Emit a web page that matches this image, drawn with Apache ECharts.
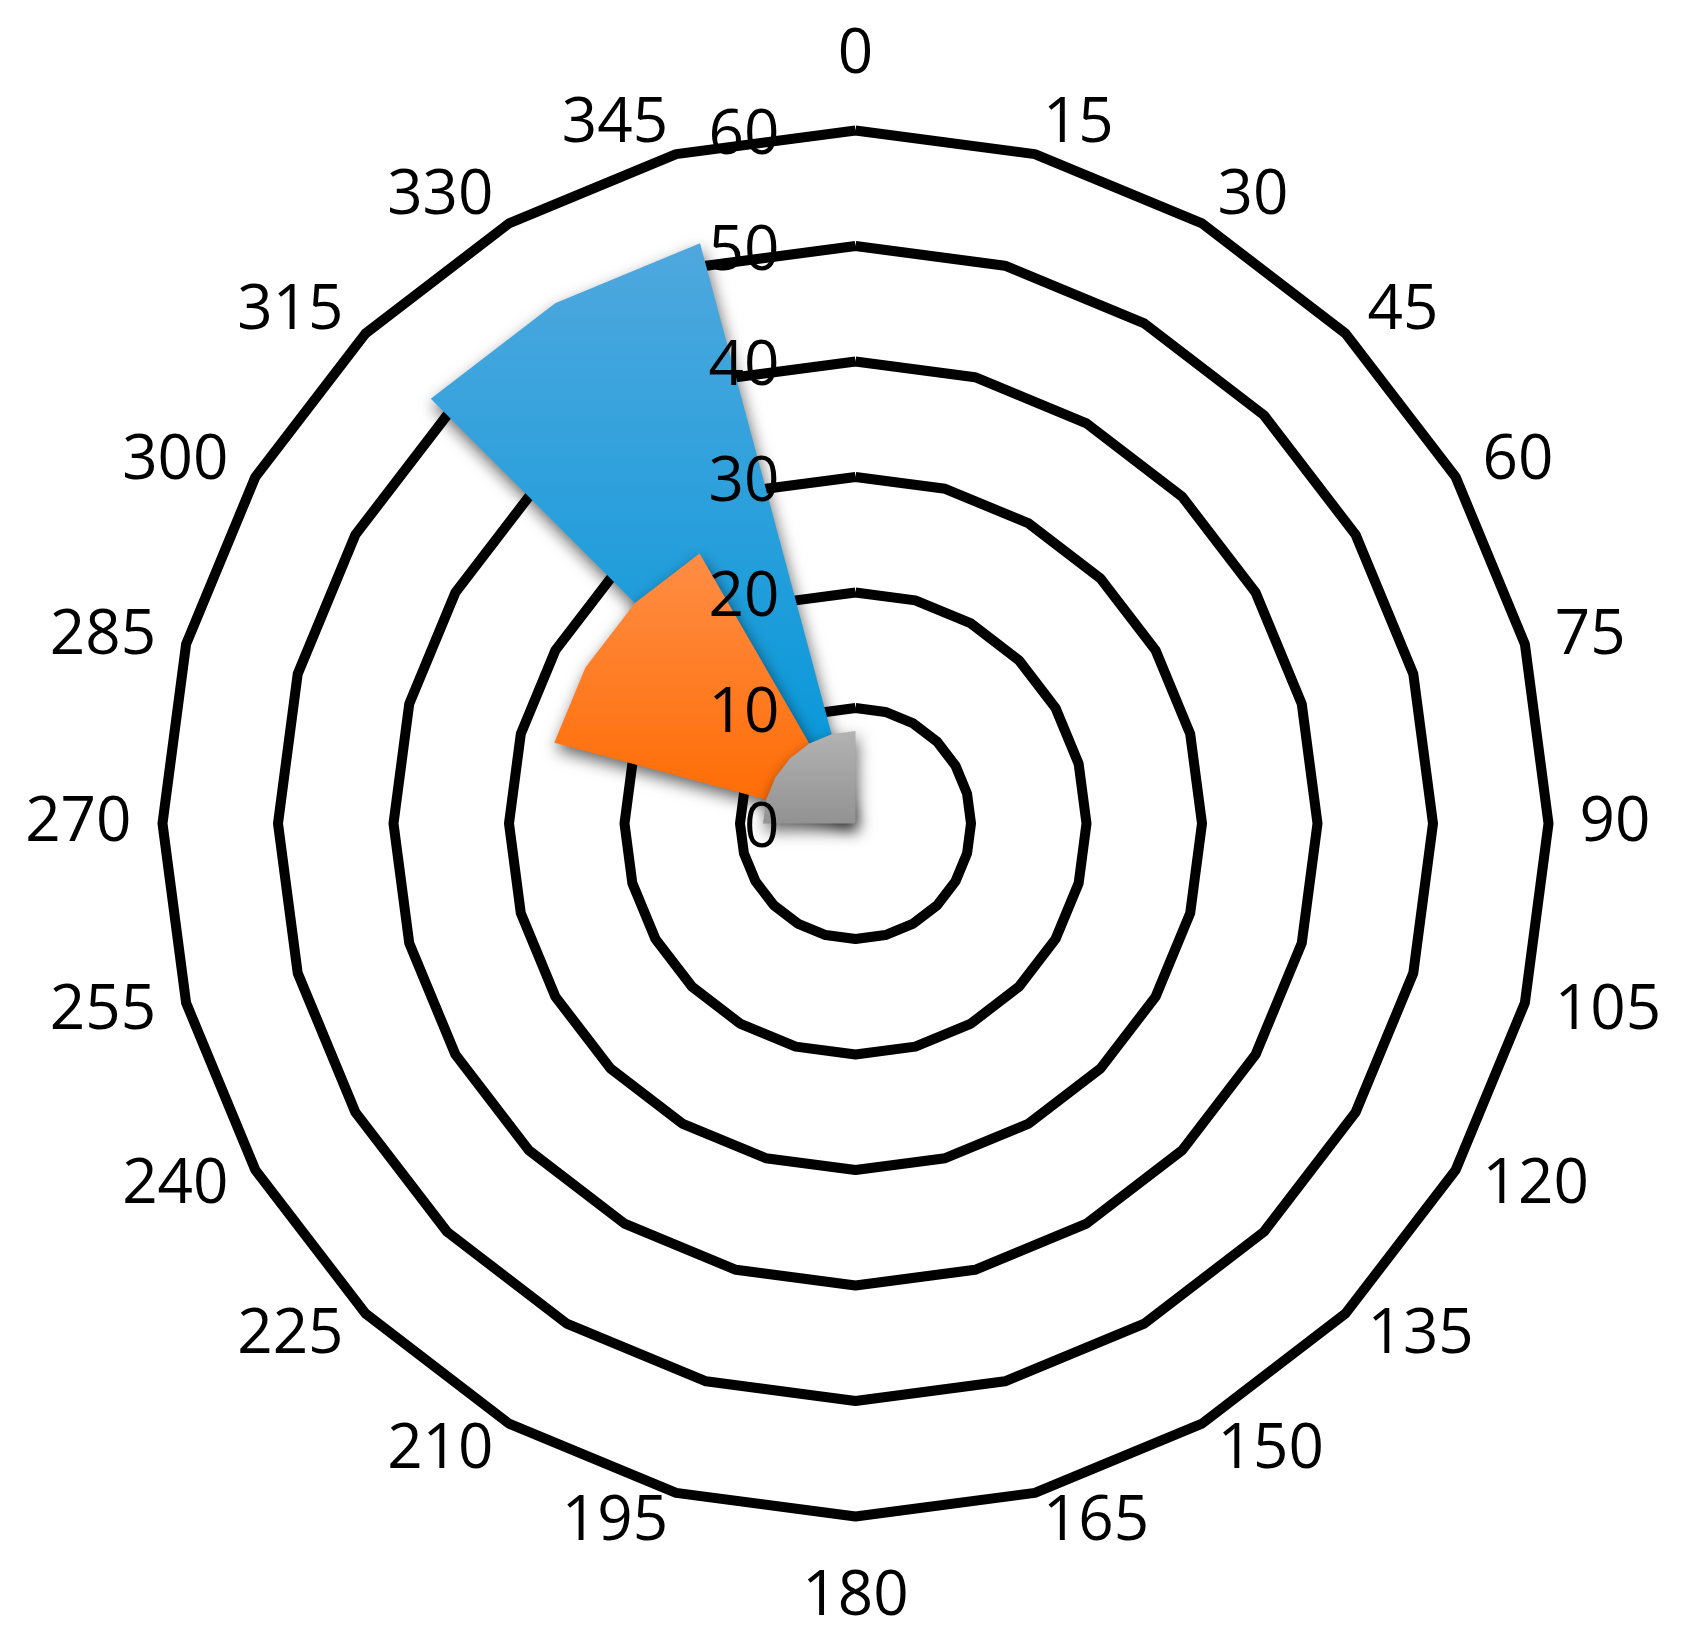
<!DOCTYPE html>
<html>
<head>
<meta charset="utf-8">
<script src="https://cdn.jsdelivr.net/npm/echarts@6/dist/echarts.min.js"></script>
<style>
html,body{margin:0;padding:0;background:#fff;}
#chart{width:1682px;height:1634px;}
</style>
</head>
<body>
<div id="chart"></div>
<script>
// Direction labels, clockwise from top
const angleLabels = [0,15,30,45,60,75,90,105,120,135,150,165,180,195,210,225,240,255,270,285,300,315,330,345];
// Values per direction (same order as angleLabels)
const seriesBlue   = [0,0,0,0,0,0,0,0,0,0,0,0,0,0,0,0,0,0,0,0,0,52,52,52];
const seriesOrange = [0,0,0,0,0,0,0,0,0,0,0,0,0,0,0,0,0,0,0,27,27,27,27,0];
const seriesGray   = [8,0,0,0,0,0,0,0,0,0,0,0,0,0,0,0,0,0,8,8,8,8,8,8];
const radialMax = 60;
const radialStep = 10;

// ECharts radar goes counter-clockwise; reorder so labels run clockwise
const order = [0];
for (let i = angleLabels.length - 1; i >= 1; i--) order.push(i);
const reorder = arr => order.map(i => arr[i]);

const FONT = 'Open Sans';
const CENTER = [855.5, 823.5];
const RADIUS = 693;

const indicator = order.map(i => {
  const o = { name: String(angleLabels[i]), min: 0, max: radialMax };
  if (angleLabels[i] === 0) o.nameGap = 44;
  else if (angleLabels[i] === 180) o.nameGap = 50;
  return o;
});

function grad(top, bottom) {
  return new echarts.graphic.LinearGradient(0, 0, 0, 1, [
    { offset: 0, color: top }, { offset: 1, color: bottom }
  ]);
}
function areaSeries(name, data, top, bottom) {
  return {
    type: 'radar', name: name, symbol: 'none', silent: true,
    lineStyle: { width: 0, opacity: 0 },
    areaStyle: { color: grad(top, bottom), opacity: 1,
      shadowBlur: 16, shadowColor: 'rgba(0,0,0,0.6)', shadowOffsetX: 2, shadowOffsetY: 7 },
    data: [{ value: reorder(data) }]
  };
}

const chart = echarts.init(document.getElementById('chart'), null, { renderer: 'canvas' });
chart.setOption({
  animation: false,
  backgroundColor: '#fff',
  radar: {
    center: CENTER,
    radius: RADIUS,
    startAngle: 90,
    shape: 'polygon',
    splitNumber: radialMax / radialStep,
    indicator: indicator,
    nameGap: 31,
    axisName: { color: '#000', fontSize: 62, fontFamily: FONT },
    axisLine: { show: false },
    axisTick: { show: false },
    axisLabel: { show: false },
    splitArea: { show: false },
    splitLine: { lineStyle: { color: '#000', width: 10, join: 'round' } }
  },
  polar: { center: CENTER, radius: RADIUS },
  angleAxis: { type: 'value', min: 0, max: 360, startAngle: 90, show: false },
  radiusAxis: {
    type: 'value', min: 0, max: radialMax, interval: radialStep, z: 20,
    axisLine: { show: false }, axisTick: { show: false }, splitLine: { show: false },
    axisLabel: { show: true, color: '#000', fontSize: 62, fontFamily: FONT, margin: 76,
      formatter: v => '{v|' + v + '}',
      rich: { v: { color: '#000', fontSize: 62, fontFamily: FONT, padding: [12, 0, 0, 0] } } }
  },
  series: [
    areaSeries('A', seriesBlue, '#4fa8de', '#0096d9'),
    areaSeries('B', seriesOrange, '#ff8d45', '#ff6a00'),
    areaSeries('C', seriesGray, '#b3b3b3', '#929292')
  ]
});
</script>
</body>
</html>
